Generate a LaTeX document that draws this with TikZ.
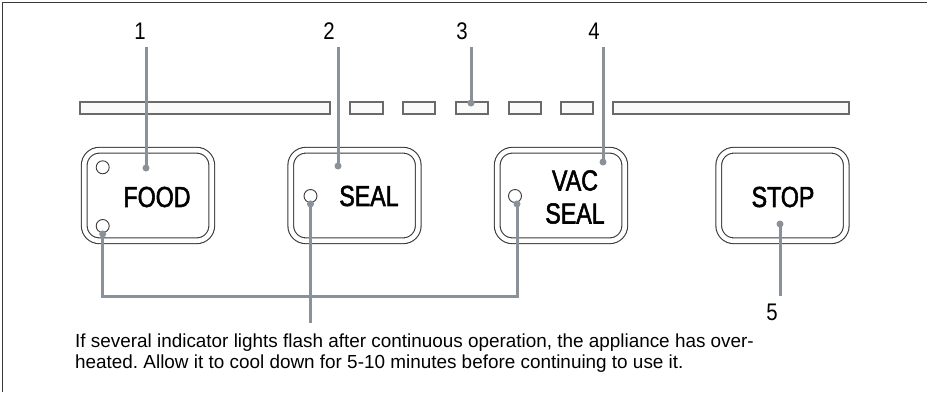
\documentclass[tikz,border=0pt]{standalone}
\usepackage{fontspec}
\setmainfont{Liberation Sans}
\newfontfamily\btnfont[FakeStretch=0.8,FakeBold=1.8]{Liberation Sans}
\newfontfamily\numfont[FakeStretch=0.85]{Liberation Sans}
\definecolor{leader}{HTML}{8A9199}
\definecolor{outline}{HTML}{3A3A3A}
\definecolor{barline}{HTML}{6A6A6A}
\frenchspacing
\begin{document}
\begin{tikzpicture}[x=1pt,y=-1pt,
  button/.style={draw=outline, line width=1.1pt, double=white, double distance=4.6pt,
    rounded corners=15pt, minimum width=127.5pt, minimum height=90.5pt, inner sep=0pt},
  btntext/.style={font=\btnfont\fontsize{29}{33}\selectfont, inner sep=0pt, align=center},
  lamp/.style={circle, draw=outline, line width=0.9pt, fill=white, minimum size=13pt, inner sep=0pt},
  bar/.style={draw=barline, line width=1.4pt, fill=black!2},
  lead/.style={draw=leader, line width=3pt},
  tip/.style={circle, fill=leader, minimum size=7pt, inner sep=0pt},
  callout/.style={font=\numfont\fontsize{24}{24}\selectfont, inner sep=0pt},
  note/.style={font=\fontsize{18.9}{21}\selectfont, inner sep=0pt, anchor=west}]
\useasboundingbox (0,0) rectangle (927,392);

% frame edges
\draw[outline, line width=1pt] (2.5,392) -- (2.5,2.5) -- (927,2.5);

% indicator strip
\draw[bar] (80,102) rectangle (330,114);
\foreach \xa/\xb in {350/383, 403/435, 456/488, 509/541, 561/593}
  \draw[bar] (\xa,102) rectangle (\xb,114);
\draw[bar] (613,102) rectangle (849,114);

% buttons
\node[button] (food) at (148,195.5) {};
\node[button] (seal) at (354.5,195.5) {};
\node[button] (vac)  at (561,195.5) {};
\node[button] (stop) at (782.5,195.5) {};

\node[btntext] (foodtxt) at (157,197) {FOOD};
\node[btntext] (sealtxt) at (369,196) {SEAL};
\node[btntext] (vactxt)  at (575,197) {VAC\\SEAL};
\node[btntext] (stoptxt) at (783,197) {STOP};

% lamps
\node[lamp] (foodA) at (102.7,167.3) {};
\node[lamp] (foodB) at (102.7,226) {};
\node[lamp] (sealL) at (310.5,196) {};
\node[lamp] (vacL)  at (515,196) {};

% callout numbers
\node[callout] (n1) at (140,31) {1};
\node[callout] (n2) at (329,31) {2};
\node[callout] (n3) at (462,31) {3};
\node[callout] (n4) at (594,31) {4};
\node[callout] (n5) at (772,312) {5};

% leader end points
\coordinate (t1) at (146,47);   \coordinate (d1) at (146,168);
\coordinate (t2) at (338,47);   \coordinate (d2) at (338,166);
\coordinate (t3) at (471,47);   \coordinate (d3) at (471,103);
\coordinate (t4) at (603,47);   \coordinate (d4) at (603,162);
\coordinate (t5) at (780,296);  \coordinate (d5) at (780,224);

\foreach \i in {1,...,5} {
  \draw[lead] (t\i) -- (d\i);
  \node[tip] at (d\i) {};
}

% lamp wiring
\coordinate (bl) at (102.7,296.5);
\coordinate (br) at (517,296.5);
\coordinate (sealend) at (310.5,323);
\draw[lead] (foodB.south) -- (bl) -- (br) -- (br |- vacL.south);
\draw[lead] (sealL.south) -- (sealend);
\node[tip] at ([yshift=-1pt]foodB.south) {};
\node[tip] at ([yshift=-1pt]sealL.south) {};
\node[tip] at ([yshift=-1pt]br |- vacL.south) {};

% note
\node[note] (note1) at (75,343) {If several indicator lights flash after continuous operation, the appliance has over-};
\node[note] (note2) at (75,364) {heated. Allow it to cool down for 5-10 minutes before continuing to use it.};
\end{tikzpicture}
\end{document}
